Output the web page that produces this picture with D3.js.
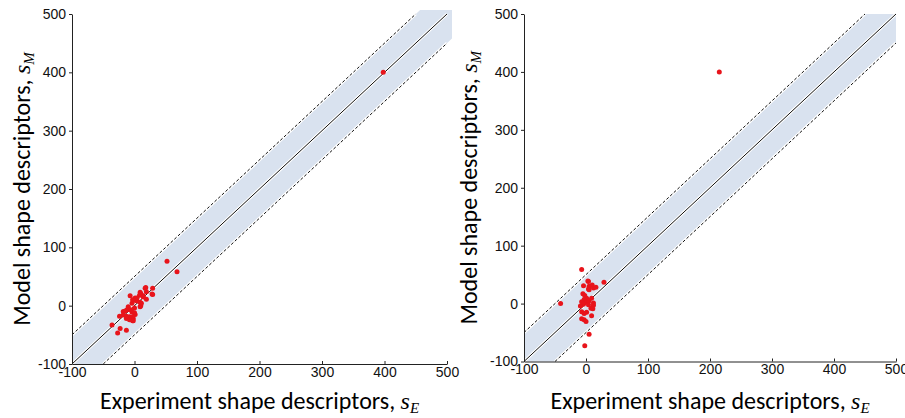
<!DOCTYPE html>
<html>
<head>
<meta charset="utf-8">
<script src="https://cdn.jsdelivr.net/npm/d3@7/dist/d3.min.js"></script>
<style>
  html, body { margin: 0; padding: 0; background: #fff; }
  svg { display: block; }
  .tick text { font-family: "Liberation Sans", Arial, sans-serif; font-size: 14px; fill: #111; }
  .title { font-family: Carlito, Calibri, Lato, "Open Sans", sans-serif; font-size: 24px; fill: #000; }
  .sym { font-family: "Liberation Serif", "Times New Roman", serif; font-style: italic; }
</style>
</head>
<body>
<svg id="chart" width="905" height="418"></svg>
<script>
// ---------- data ----------
const xTicks = [-100, 0, 100, 200, 300, 400, 500];
const yTicks = [-100, 0, 100, 200, 300, 400, 500];
const domainMin = -100, domainMax = 500;
const bandHalf = 50;

const leftX = [52, 68, 398, 17, 29, 9, 29, 18, 19, -7, 14, 8, 10, 1, -3, 4, 9, -4, 10, -10, 0, -12, -18, -4, 1, -18, -8, -2, -13, -3, -36, -23, -13, -27, 19, 4, -2, 11, 9, -15, -6, 0, -3, -8, -13, -24, 28, 14, -2];
const leftY = [76, 58, 400, 30, 30, 23, 19, 31, 24, 17, 17, 18, 21, 13, 10, 8, 6, 4, 0, -2, -4, -7, -10, -11, -15, -16, -19, -22, -22, -26, -33, -39, -42, -47, 11, 13, 9, 4, -2, -9, -7, -12, -19, -24, -18, -18, 20, 15, -26];

const rightX = [215, -7, 29, -41, 4, -4, 5, 12, 4, -5, -2, 1, -3, -7, 0, 5, 9, 12, -4, 4, -9, 12, 8, -7, 1, 9, -3, 0, 5, -2, 3, 10, 16, 5, 11, -3, -7];
const rightY = [400, 59, 37, 0, 38, 31, 30, 27, 25, 17, 14, 9, 7, 3, 3, 5, 9, 1, -1, -2, -4, -3, -8, -14, -15, -21, -28, -31, -53, -73, 39, 32, 28, 24, -9, -17, -26];

const panels = [
  { xs: leftX, ys: leftY, left: 72, right: 447, bottom: 364, top: 14, clipX: 508, clipY: 507, ytx: 22 },
  { xs: rightX, ys: rightY, left: 524, right: 896, bottom: 361.5, top: 14, clipX: 500, clipY: 500, ytx: 469 }
];

const svg = d3.select("#chart");
const fillCol = "#d9e2ef";
const dotCol = "#e8141b";

panels.forEach(p => {
  const x = d3.scaleLinear().domain([domainMin, domainMax]).range([p.left, p.right]);
  const y = d3.scaleLinear().domain([domainMin, domainMax]).range([p.bottom, p.top]);
  const g = svg.append("g");

  // band fill
  const poly = [
    [domainMin, domainMin],
    [domainMin + bandHalf, domainMin],
    [p.clipX, p.clipX - bandHalf],
    [p.clipX, p.clipY],
    [p.clipY - bandHalf, p.clipY],
    [domainMin, domainMin + bandHalf]
  ];
  g.append("path")
    .attr("d", d3.line().x(d => x(d[0])).y(d => y(d[1]))(poly) + "Z")
    .attr("fill", fillCol);

  const lines = [
    { pts: [[domainMin, domainMin], [domainMax, domainMax]], dash: null },
    { pts: [[domainMin, domainMin + bandHalf], [domainMax - bandHalf, domainMax]], dash: "3,2" },
    { pts: [[domainMin + bandHalf, domainMin], [domainMax, domainMax - bandHalf]], dash: "3,2" }
  ];
  const lg = d3.line().x(d => x(d[0])).y(d => y(d[1]));
  lines.forEach(l => {
    g.append("path").attr("d", lg(l.pts)).attr("stroke", "#fff").attr("stroke-width", 3).attr("fill", "none");
  });
  lines.forEach(l => {
    g.append("path").attr("d", lg(l.pts)).attr("stroke", "#111").attr("stroke-width", 1)
      .attr("fill", "none").attr("stroke-dasharray", l.dash);
  });

  // dots
  g.selectAll("circle.pt").data(p.xs.map((v, i) => [v, p.ys[i]])).join("circle")
    .attr("class", "pt")
    .attr("cx", d => x(d[0])).attr("cy", d => y(d[1])).attr("r", 2.5)
    .attr("fill", dotCol);

  // axes
  const ya = g.append("g").attr("transform", `translate(${p.left},0)`)
    .call(d3.axisLeft(y).tickValues(yTicks).tickFormat(d3.format("d")).tickSizeInner(3).tickSizeOuter(0).tickPadding(3));
  const xa = g.append("g").attr("transform", `translate(0,${p.bottom})`)
    .call(d3.axisBottom(x).tickValues(xTicks).tickFormat(d3.format("d")).tickSizeInner(-3).tickSizeOuter(0).tickPadding(3));
  [ya, xa].forEach(a => {
    a.select(".domain").attr("stroke", "#222");
    a.selectAll(".tick line").attr("stroke", "#222");
    a.selectAll(".tick text").attr("font-family", null).attr("font-size", null)
      .text(d => d < 0 ? "-" + Math.abs(d) : String(d));
  });

  // x title
  const xt = g.append("text").attr("class", "title")
    .attr("x", (p.left + p.right) / 2).attr("y", 409).attr("text-anchor", "middle");
  xt.append("tspan").text("Experiment shape descriptors, ");
  xt.append("tspan").attr("class", "sym").text("s");
  xt.append("tspan").attr("class", "sym").attr("font-size", "15px").attr("dy", 4).text("E");

  // y title
  const yt = g.append("text").attr("class", "title")
    .attr("transform", `translate(${p.ytx + 8},${(p.top + p.bottom) / 2}) rotate(-90)`)
    .attr("text-anchor", "middle");
  yt.append("tspan").text("Model shape descriptors, ");
  yt.append("tspan").attr("class", "sym").text("s");
  yt.append("tspan").attr("class", "sym").attr("font-size", "15px").attr("dy", 4).text("M");
});
</script>
</body>
</html>
